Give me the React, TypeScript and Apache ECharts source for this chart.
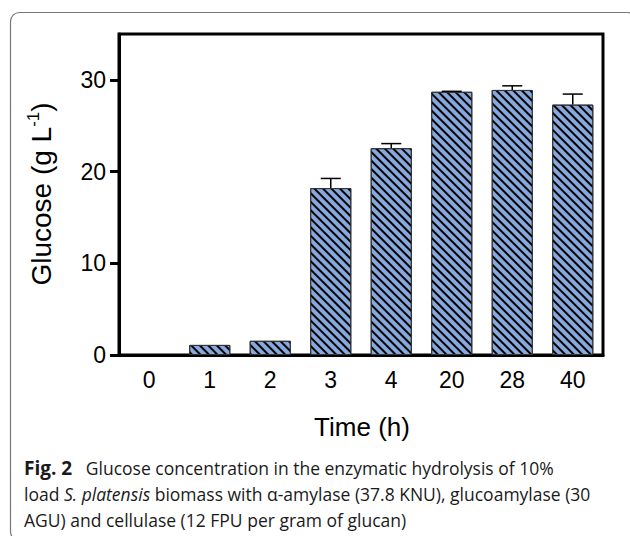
import React, { useEffect, useRef } from 'react';
import * as echarts from 'echarts';

const categories = ['0', '1', '2', '3', '4', '20', '28', '40'];
const glucose = [0, 1.1, 1.55, 18.2, 22.55, 28.7, 28.9, 27.3];
const errors = [0, 0, 0, 1.05, 0.5, 0.05, 0.45, 1.15];
const yTicks = [0, 10, 20, 30];
const xTitle = 'Time (h)';
const yTitle = 'Glucose (g L{sup|-1})';
const captionLines = [
  '{b|Fig. 2}   Glucose concentration in the enzymatic hydrolysis of 10%',
  'load {i|S. platensis} biomass with α-amylase (37.8 KNU), glucoamylase (30',
  'AGU) and cellulase (12 FPU per gram of glucan)',
];

export default function App() {
  const ref = useRef<HTMLDivElement>(null);
  useEffect(() => {
    const chart = echarts.init(ref.current!, null, { renderer: 'svg' });
    const font = '"Liberation Sans", Arial, sans-serif';
    const capFont = '"Open Sans", "Noto Sans", sans-serif';
    const capSize = 17.5;
    chart.setOption({
      animation: false,
      backgroundColor: '#fff',
      grid: {
        left: 119,
        right: 27,
        top: 34,
        bottom: 181,
        show: true,
        borderColor: '#000',
        borderWidth: 3,
      },
      xAxis: {
        type: 'category',
        data: categories,
        axisLine: { lineStyle: { color: '#000', width: 3 } },
        axisTick: { alignWithLabel: true, length: 8, lineStyle: { color: '#000', width: 3 } },
        axisLabel: { color: '#000', fontSize: 23, fontFamily: font, margin: 13 },
      },
      yAxis: {
        type: 'value',
        min: 0,
        max: 35,
        interval: 10,
        splitLine: { show: false },
        axisLine: { show: true, lineStyle: { color: '#000', width: 3 } },
        axisTick: { show: true, length: 9, customValues: yTicks, lineStyle: { color: '#000', width: 3 } },
        axisLabel: { color: '#000', fontSize: 23, fontFamily: font, margin: 13, customValues: yTicks },
      },
      series: [
        {
          type: 'bar',
          data: glucose.map((v) => (v === 0 ? { value: v, itemStyle: { borderWidth: 0 } } : v)),
          barWidth: '68%',
          itemStyle: {
            color: '#86a8dc',
            borderColor: '#333',
            borderWidth: 1,
            decal: {
              symbol: 'rect',
              symbolSize: 1,
              dashArrayX: [1, 0],
              dashArrayY: [2, 4],
              rotation: Math.PI / 4,
              color: '#000',
            },
          },
        },
        {
          type: 'custom',
          data: categories.map((c, i) => [i, glucose[i], errors[i]]),
          encode: { x: 0, y: 1 },
          z: 5,
          renderItem: (params: any, api: any) => {
            const i = api.value(0);
            const v = api.value(1);
            const e = api.value(2);
            if (!e) return null;
            const base = api.coord([i, v]);
            const top = api.coord([i, v + e]);
            const hw = 10;
            return {
              type: 'group',
              children: [
                { type: 'line', shape: { x1: base[0], y1: base[1], x2: top[0], y2: top[1] }, style: { stroke: '#000', lineWidth: 1.5 } },
                { type: 'line', shape: { x1: top[0] - hw, y1: top[1], x2: top[0] + hw, y2: top[1] }, style: { stroke: '#000', lineWidth: 1.5 } },
              ],
            };
          },
        },
      ],
      graphic: [
        {
          type: 'rect',
          shape: { x: 10.5, y: 12.5, width: 626, height: 528, r: 9 },
          style: { fill: 'none', stroke: '#777', lineWidth: 1.2 },
          silent: true,
        },
        {
          type: 'text',
          x: 362,
          y: 427,
          style: { text: xTitle, font: `26px ${font}`, fill: '#000', align: 'center', verticalAlign: 'middle' },
        },
        {
          type: 'text',
          x: 41,
          y: 194,
          rotation: Math.PI / 2,
          style: {
            text: yTitle,
            font: `28px ${font}`,
            fill: '#000',
            align: 'center',
            verticalAlign: 'middle',
            lineHeight: 32,
            rich: {
              sup: { font: `17px ${font}`, fill: '#000', verticalAlign: 'top', lineHeight: 18 },
            },
          },
        },
        ...captionLines.map((t, k) => ({
          type: 'text',
          x: 24,
          y: 468 + k * 26,
          style: {
            text: t,
            font: `${capSize}px ${capFont}`,
            fill: '#1a1a1a',
            align: 'left',
            verticalAlign: 'middle',
            rich: {
              b: { font: `bold 19px ${capFont}`, fill: '#1a1a1a' },
              i: { font: `italic ${capSize}px ${capFont}`, fill: '#1a1a1a' },
            },
          },
        })),
      ],
    });
    return () => chart.dispose();
  }, []);
  return (
    <div
      ref={ref}
      style={{ position: 'fixed', left: 0, top: 0, width: 630, height: 536, background: '#fff' }}
    />
  );
}
